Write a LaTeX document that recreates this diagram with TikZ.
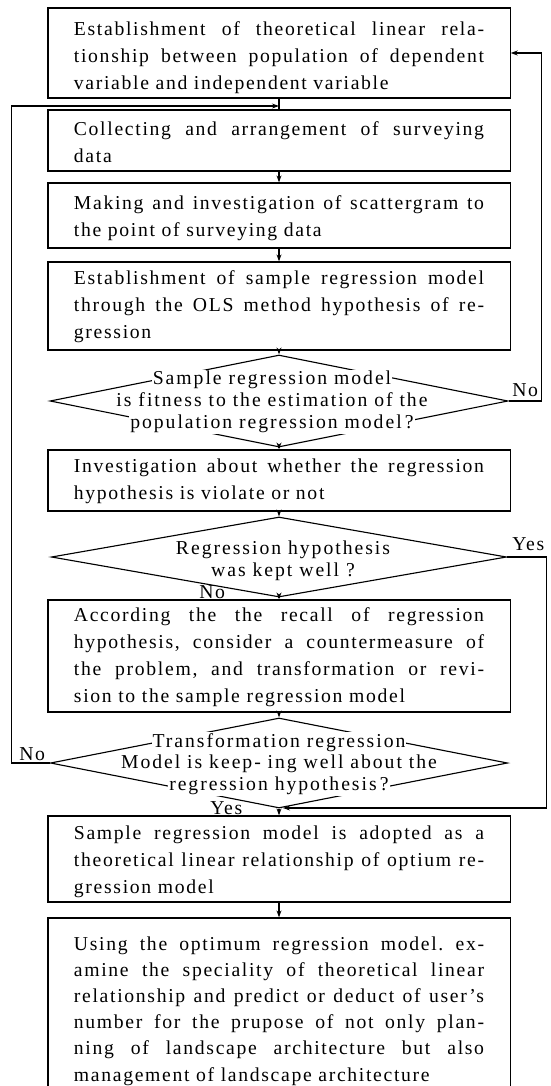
\documentclass[tikz,border=0pt]{standalone}
\usepackage{fontspec}
\setmainfont{Liberation Serif}[LetterSpace=8.5]
\newfontfamily\qfont{Liberation Serif}[LetterSpace=10]
\usetikzlibrary{arrows.meta,shapes.geometric}
\frenchspacing
\newcommand{\jl}[1]{\makebox[\linewidth][s]{\spaceskip=0.25em plus 1fil\relax #1}}
\newcommand{\wl}[1]{\colorbox{white}{#1}}
\setlength{\fboxsep}{0.6pt}

\begin{document}
\begin{tikzpicture}[
  x=0.025cm, y=-0.025cm,
  stage/.style={rectangle, draw=black, line width=0.8pt, text width=10.25cm, inner xsep=0.65cm, inner ysep=0pt, align=left, font=\fontsize{14}{19.2}\selectfont},
  drop/.style={execute at begin node={\rule{0pt}{#1}}},
  choice/.style={diamond, draw=black, line width=0.8pt, inner sep=0pt},
  ctext/.style={align=center, inner sep=0pt, font=\qfont\fontsize{14}{15.5}\selectfont},
  arr/.style={-{Stealth[length=5pt,width=3.5pt]}, line width=0.8pt},
  lab/.style={inner sep=0pt, anchor=base west, font=\fontsize{14}{15}\selectfont}
]
\useasboundingbox (0,0) rectangle (551,1086);
\fill[white] (0,0) rectangle (551,1086);
\node[stage, drop=16.7pt, minimum height=2.25cm] (estab) at (279,53) {\jl{Establishment of theoretical linear rela-}\\\jl{tionship between population of dependent}\\variable and independent variable};
\node[stage, drop=12.4pt, minimum height=1.525cm] (collect) at (279,140.5) {\jl{Collecting and arrangement of surveying}\\data};
\node[stage, drop=13.9pt, minimum height=1.625cm] (scatter) at (279,215.5) {\jl{Making and investigation of scattergram to}\\the point of surveying data};
\node[stage, drop=11pt, minimum height=2.2cm] (ols) at (279,306) {\jl{Establishment of sample regression model}\\\jl{through the OLS method hypothesis of re-}\\gression};
\node[choice, minimum width=11.45cm, minimum height=2.3cm] (fit) at (279,401) {};
\node[ctext] (fitq) at (272,402) {\wl{Sample regression model}\\is fitness to the estimation of the\\\wl{population regression model\,?}};
\node[stage, drop=11pt, minimum height=1.525cm] (viol) at (279,480.5) {\jl{Investigation about whether the regression}\\hypothesis is violate or not};
\node[choice, minimum width=11.375cm, minimum height=2cm] (kept) at (279,557) {};
\node[ctext] (keptq) at (283,561) {Regression hypothesis\\was kept well ?};
\node[stage, drop=11pt, minimum height=2.8cm] (counter) at (279,656) {\jl{According the the recall of regression}\\\jl{hypothesis, consider a countermeasure of}\\\jl{the problem, and transformation or revi-}\\sion to the sample regression model};
\node[choice, minimum width=11.425cm, minimum height=2.25cm] (keep) at (279,763) {};
\node[ctext] (keepq) at (279,764) {\wl{Transformation regression}\\\wl{Model is keep- ing well about the}\\\wl{regression hypothesis\,?}};
\node[stage, drop=13.9pt, minimum height=2.15cm] (adopt) at (279,859) {\jl{Sample regression model is adopted as a}\\\jl{theoretical linear relationship of optium re-}\\gression model};
\node[stage, drop=16pt, minimum height=4.425cm, font=\fontsize{14}{18.6}\selectfont] (use) at (279,1006.5) {\jl{Using the optimum regression model. ex-}\\\jl{amine the speciality of theoretical linear}\\\jl{relationship and predict or deduct of user's}\\\jl{number for the prupose of not only plan-}\\\jl{ning of landscape architecture but also}\\management of landscape architecture};
\coordinate (joinA) at (279,106);
\coordinate (joinB) at (283,808);
\draw[line width=0.8pt] (estab) -- (collect);
\draw[arr] (collect) -- (scatter);
\draw[arr] (scatter) -- (ols);
\draw[arr] (ols) -- (fit);
\draw[arr] (fit) -- (viol);
\draw[arr] (viol) -- (kept);
\draw[arr] (kept) -- (counter);
\draw[arr] (counter) -- (keep);
\draw[arr] (keep) -- (adopt);
\draw[arr] (adopt) -- (use);
\draw[arr] (fit.east) -- ++(33,0) |- (estab.east);
\draw[arr] (kept.east) -- ++(39,0) |- (joinB);
\draw[arr] (keep.west) -- ++(-38,0) |- (joinA);
\node[lab] (noA) at (512,396) {No};
\node[lab] (yesA) at (512,550) {Yes};
\node[lab] (noB) at (199,598) {No};
\node[lab] (noC) at (19,760) {No};
\node[lab] (yesB) at (210,814) {Yes};
\end{tikzpicture}
\end{document}
